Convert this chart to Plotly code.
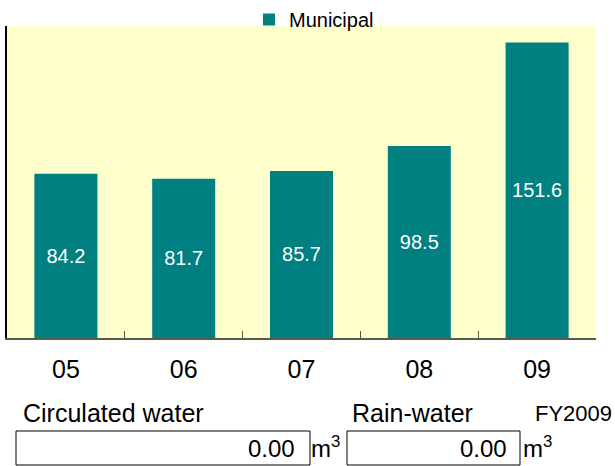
import plotly.graph_objects as go

# ── Data ────────────────────────────────────────────────────────────────
years = ["05", "06", "07", "08", "09"]
municipal = [84.2, 81.7, 85.7, 98.5, 151.6]
circulated_water = 0.00
rain_water = 0.00
fy_label = "FY2009"

TEAL = "#008080"
PLOT_BG = "#FFFFCC"
FONT = "Liberation Sans, Arial, sans-serif"

W, H = 615, 466
L, R, T, B = 7, 19, 26, 128
PW, PH = W - L - R, H - T - B


def px_x(x):
    return (x - L) / PW


def px_y(y):
    return (H - B - y) / PH


fig = go.Figure(go.Bar(
    x=years, y=municipal, name="Municipal",
    marker=dict(color=TEAL, line=dict(width=0)),
    text=[f"{v:.1f}" for v in municipal],
    textposition="inside", insidetextanchor="middle",
    textfont=dict(color="white", size=20, family=FONT),
    hoverinfo="x+y",
))

# bottom panel: labels and value boxes
for x0, x1 in [(16, 310), (347, 520)]:
    fig.add_shape(type="rect", xref="paper", yref="paper",
                  x0=px_x(x0), x1=px_x(x1), y0=px_y(465), y1=px_y(431),
                  line=dict(color="black", width=1), fillcolor="white")

labels = [
    ("Circulated water", 21, 25, "left"),
    ("Rain-water", 350, 25, "left"),
    (fy_label, 614, 22, "right"),
]
for txt, x, size, anchor in labels:
    fig.add_annotation(text=txt, xref="paper", yref="paper",
                       x=px_x(x), y=px_y(413), xanchor=anchor, yanchor="middle",
                       showarrow=False, font=dict(size=size, color="black", family=FONT))

for val, xr in [(circulated_water, 297), (rain_water, 509)]:
    fig.add_annotation(text=f"{val:.2f}", xref="paper", yref="paper",
                       x=px_x(xr), y=px_y(448), xanchor="right", yanchor="middle",
                       showarrow=False, font=dict(size=24, color="black", family=FONT))

for xl in [309, 521]:
    fig.add_annotation(text="m<sup>3</sup>", xref="paper", yref="paper",
                       x=px_x(xl), y=px_y(447), xanchor="left", yanchor="middle",
                       showarrow=False, font=dict(size=24, color="black", family=FONT))

fig.update_layout(
    width=W, height=H,
    margin=dict(l=L, r=R, t=T, b=B, autoexpand=False),
    paper_bgcolor="white",
    plot_bgcolor=PLOT_BG,
    font=dict(family=FONT, color="black"),
    bargap=0.465,
    showlegend=True,
    legend=dict(
        orientation="h", xanchor="left", yanchor="top",
        x=px_x(249), y=px_y(0),
        font=dict(size=20, color="black", family=FONT),
        bgcolor="rgba(0,0,0,0)",
    ),
    xaxis=dict(
        type="category", showgrid=False, zeroline=False,
        showline=True, linecolor="#5a5a48", linewidth=2,
        ticks="inside", tickson="boundaries", ticklen=7, tickcolor="#5a5a48",
        tickfont=dict(size=25, color="black", family=FONT),
        ticklabelstandoff=8,
    ),
    yaxis=dict(
        range=[0, 160], showgrid=False, zeroline=False,
        showline=True, linecolor="black", linewidth=2,
        showticklabels=False, ticks="",
    ),
)

# drop the browser's default body margin so the figure fills the window
fig.write_html("out.html", config={"displayModeBar": False},
               post_script="document.body.style.margin='0';")
